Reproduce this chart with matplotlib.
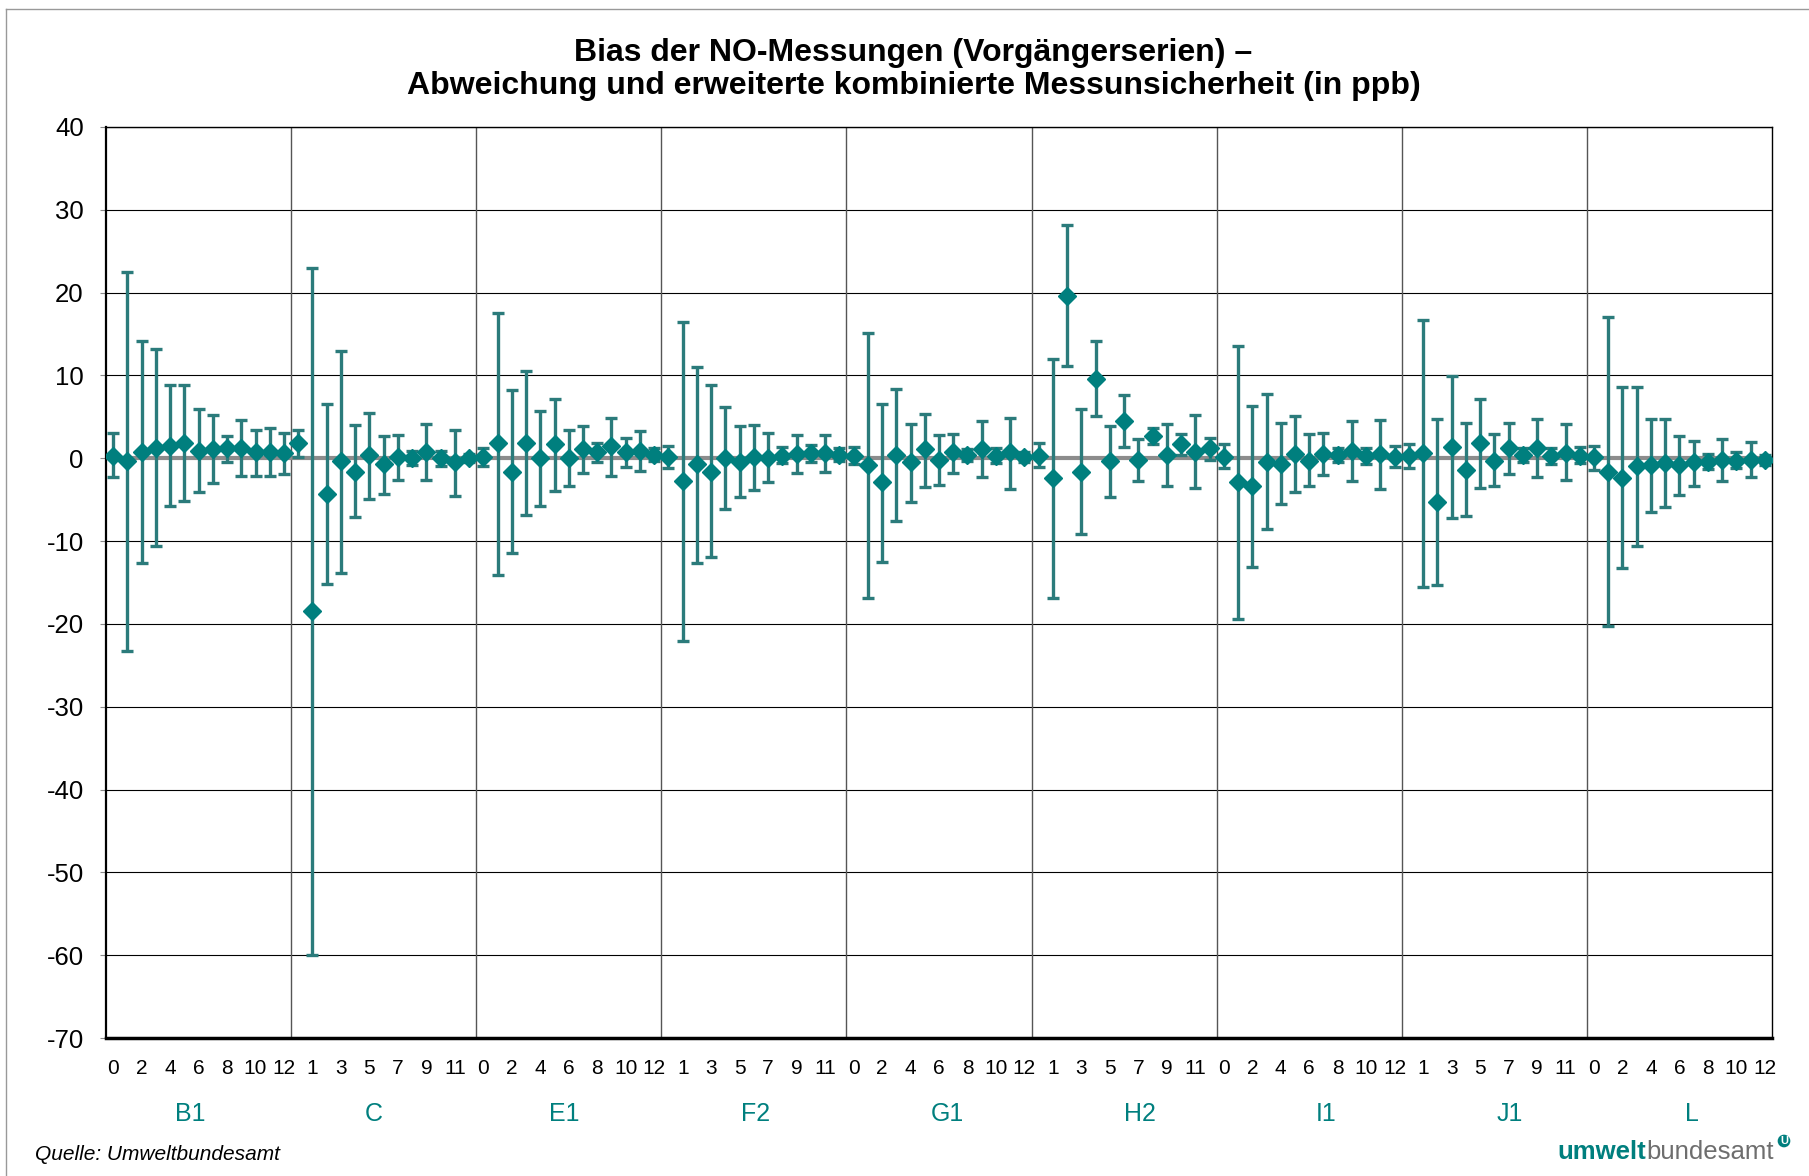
import numpy as np
import matplotlib as mpl
mpl.use('Agg')
import matplotlib.pyplot as plt
from matplotlib.transforms import blended_transform_factory

plt.rcParams['font.family'] = ['Liberation Sans', 'DejaVu Sans']
plt.rcParams['axes.unicode_minus'] = False

# groups (instrument series), 13 measurements each (0..12)
groups = ['B1', 'C', 'E1', 'F2', 'G1', 'H2', 'I1', 'J1', 'L']

# bias in ppb
bias_B1 = [0.3, -0.3, 0.8, 1.3, 1.5, 1.9, 0.9, 1.1, 1.2, 1.3, 0.7, 0.8, 0.6]
bias_C = [1.8, -18.5, -4.3, -0.3, -1.6, 0.4, -0.7, 0.1, 0.0, 0.8, 0.0, -0.5, 0.0]
bias_E1 = [0.1, 1.8, -1.6, 1.8, 0.0, 1.7, 0.0, 1.1, 0.7, 1.5, 0.8, 0.9, 0.4]
bias_F2 = [0.1, -2.7, -0.7, -1.6, 0.0, -0.4, 0.1, 0.0, 0.3, 0.5, 0.6, 0.6, 0.4]
bias_G1 = [0.3, -0.8, -2.9, 0.4, -0.5, 1.1, -0.2, 0.7, 0.4, 1.1, 0.3, 0.7, 0.2]
bias_H2 = [0.3, -2.4, 19.6, -1.6, 9.6, -0.3, 4.5, -0.2, 2.7, 0.4, 1.7, 0.8, 1.3]
bias_I1 = [0.2, -2.9, -3.3, -0.4, -0.7, 0.5, -0.3, 0.5, 0.4, 0.9, 0.3, 0.5, 0.2]
bias_J1 = [0.3, 0.6, -5.3, 1.4, -1.4, 1.9, -0.3, 1.2, 0.4, 1.3, 0.3, 0.6, 0.3]
bias_L = [0.1, -1.7, -2.4, -0.9, -0.8, -0.6, -0.8, -0.5, -0.4, -0.2, -0.3, -0.2, -0.2]

# upper end of expanded uncertainty bar
upper_B1 = [3.0, 22.5, 14.2, 13.2, 8.8, 8.8, 5.9, 5.2, 2.7, 4.6, 3.4, 3.7, 3.1]
upper_C = [3.4, 23.0, 6.5, 12.9, 4.0, 5.5, 2.7, 2.8, 0.9, 4.1, 0.9, 3.4, 0.5]
upper_E1 = [1.2, 17.6, 8.2, 10.5, 5.7, 7.2, 3.4, 3.9, 1.8, 4.9, 2.5, 3.3, 1.2]
upper_F2 = [1.5, 16.5, 11.0, 8.8, 6.2, 3.9, 4.0, 3.0, 1.4, 2.8, 1.6, 2.8, 1.3]
upper_G1 = [1.4, 15.1, 6.6, 8.4, 4.1, 5.4, 2.8, 2.9, 1.1, 4.5, 1.2, 4.9, 0.8]
upper_H2 = [1.8, 12.0, 28.2, 6.0, 14.1, 3.9, 7.6, 2.3, 3.6, 4.1, 2.9, 5.2, 2.4]
upper_I1 = [1.7, 13.6, 6.3, 7.8, 4.2, 5.1, 2.9, 3.0, 1.3, 4.5, 1.3, 4.6, 1.5]
upper_J1 = [1.7, 16.7, 4.7, 9.9, 4.3, 7.1, 2.9, 4.3, 1.3, 4.8, 1.2, 4.1, 1.4]
upper_L = [1.5, 17.1, 8.6, 8.6, 4.8, 4.8, 2.7, 2.1, 0.5, 2.3, 0.7, 2.0, 0.4]

# lower end of expanded uncertainty bar
lower_B1 = [-2.3, -23.3, -12.7, -10.6, -5.8, -5.1, -4.1, -3.0, -0.5, -2.1, -2.1, -2.2, -1.9]
lower_C = [0.1, -60.0, -15.2, -13.9, -7.1, -4.9, -4.3, -2.6, -0.8, -2.6, -0.9, -4.5, -0.5]
lower_E1 = [-0.9, -14.1, -11.4, -6.9, -5.8, -3.9, -3.4, -1.8, -0.4, -2.1, -1.1, -1.5, -0.3]
lower_F2 = [-1.2, -22.1, -12.7, -11.9, -6.1, -4.7, -3.8, -2.9, -0.6, -1.8, -0.5, -1.6, -0.3]
lower_G1 = [-0.7, -16.9, -12.5, -7.6, -5.3, -3.5, -3.2, -1.8, -0.3, -2.3, -0.6, -3.7, -0.4]
lower_H2 = [-1.1, -16.9, 11.1, -9.2, 5.1, -4.7, 1.4, -2.8, 1.7, -3.4, 0.4, -3.6, -0.2]
lower_I1 = [-1.2, -19.4, -13.1, -8.6, -5.5, -4.1, -3.4, -2.0, -0.4, -2.7, -0.7, -3.7, -1.0]
lower_J1 = [-1.2, -15.6, -15.3, -7.2, -7.0, -3.6, -3.4, -1.9, -0.5, -2.3, -0.7, -2.6, -0.6]
lower_L = [-1.4, -20.3, -13.3, -10.6, -6.5, -5.9, -4.4, -3.4, -1.3, -2.7, -1.2, -2.3, -0.8]

bias = np.array(bias_B1 + bias_C + bias_E1 + bias_F2 + bias_G1 + bias_H2 + bias_I1 + bias_J1 + bias_L)
upper = np.array(upper_B1 + upper_C + upper_E1 + upper_F2 + upper_G1 + upper_H2 + upper_I1 + upper_J1 + upper_L)
lower = np.array(lower_B1 + lower_C + lower_E1 + lower_F2 + lower_G1 + lower_H2 + lower_I1 + lower_J1 + lower_L)

n_per = 13
x = np.arange(len(bias))

teal = '#007f7e'
bar_teal = '#2b7b7b'

fig = plt.figure(figsize=(18.09, 11.76), dpi=100)
ax = fig.add_axes([106 / 1809, 1 - 1038 / 1176, (1772 - 106) / 1809, (1038 - 127) / 1176])

ax.axhline(0, color='#8c8c8c', lw=3, zorder=2)
ax.errorbar(x, bias, yerr=[bias - lower, upper - bias], fmt='D', color=teal, ms=9.5,
            mec=teal, ecolor=bar_teal, elinewidth=2.4, capsize=4.3, capthick=2.4, zorder=3)

# separators between groups
for k in range(1, len(groups)):
    ax.axvline(k * n_per - 0.5, color='#555555', lw=1, zorder=1)

ax.set_xlim(-0.5, len(bias) - 0.5)
ax.set_ylim(-70, 40)
ax.set_yticks(np.arange(-70, 41, 10))
ax.yaxis.grid(True, color='black', lw=0.8)
ax.set_axisbelow(True)

xt = x[::2]
ax.set_xticks(xt)
ax.set_xticklabels([str(i % n_per) for i in xt])
ax.tick_params(axis='x', length=0, pad=15, labelsize=15)
ax.tick_params(axis='y', length=4, pad=12, labelsize=18.5, color='#888888')

for s in ['left', 'right', 'top']:
    ax.spines[s].set_linewidth(1)
ax.spines['left'].set_linewidth(1.6)
ax.spines['bottom'].set_linewidth(2.5)

# category labels under each group (placed as in the original, not quite centred)
label_pos = [5.4, 18.3, 31.7, 45.1, 58.6, 72.1, 85.2, 98.1, 110.9]
trans = blended_transform_factory(ax.transData, ax.transAxes)
for g, p in zip(groups, label_pos):
    ax.text(p, -0.083, g, transform=trans, ha='center', va='center',
            fontsize=18, color=teal)

fig.text(0.505, 0.941, 'Bias der NO-Messungen (Vorgängerserien) –\n'
         'Abweichung und erweiterte kombinierte Messunsicherheit (in ppb)',
         ha='center', va='center', fontsize=23, fontweight='bold', linespacing=1.15)

fig.text(35 / 1809, 1 - 1155 / 1176, 'Quelle: Umweltbundesamt', ha='left', va='center',
         fontsize=15, style='italic')

t_bund = fig.text(1774 / 1809, 1 - 1152 / 1176, 'bundesamt', ha='right', va='center',
                  fontsize=18.5, color='#6e6e6e')
ax.annotate('umwelt', xy=(0, 0), xycoords=t_bund, ha='right', va='bottom',
            fontsize=18.5, fontweight='bold', color=teal, annotation_clip=False)
fig.text(1784 / 1809, 1 - 1141 / 1176, 'U', ha='center', va='center', fontsize=8,
         fontweight='bold', color='white',
         bbox=dict(boxstyle='circle,pad=0.12', fc=teal, ec='none'))

# thin frame around the chart
fig.add_artist(plt.Line2D([6 / 1809, 6 / 1809], [0, 1 - 9 / 1176], color='#999999', lw=1))
fig.add_artist(plt.Line2D([6 / 1809, 1], [1 - 9 / 1176, 1 - 9 / 1176], color='#999999', lw=1))

plt.savefig('out.png', dpi=100)
